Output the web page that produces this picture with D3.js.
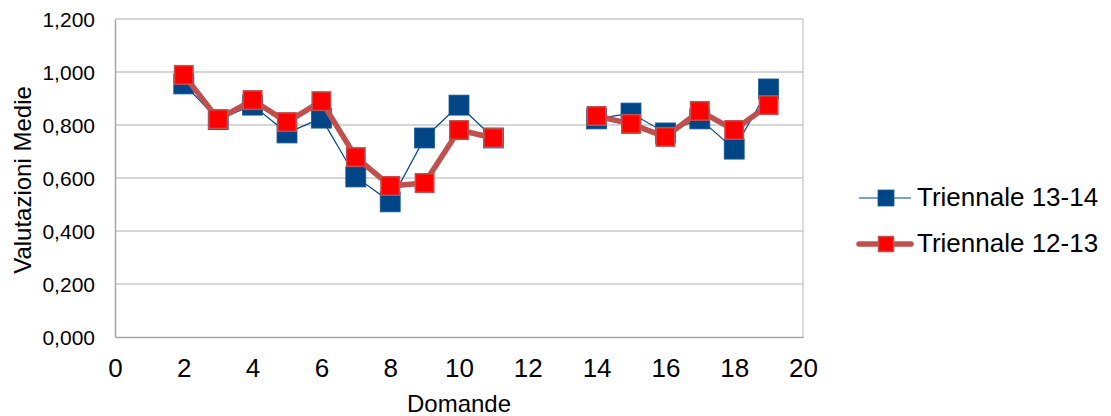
<!DOCTYPE html>
<html><head><meta charset="utf-8">
<script src="https://cdn.jsdelivr.net/npm/d3@7"></script>
<style>body{margin:0;background:#fff}svg{display:block;font-family:"Liberation Sans",Arial,sans-serif}</style>
</head><body>
<svg id="c" width="1111" height="416"></svg>
<script>
const domande = [2,3,4,5,6,7,8,9,10,11,12,13,14,15,16,17,18,19];
const triennale1314 = [0.955,0.820,0.875,0.770,0.826,0.604,0.510,0.751,0.875,0.751,null,null,0.823,0.845,0.770,0.823,0.709,0.936];
const triennale1213 = [0.989,0.822,0.894,0.811,0.890,0.679,0.570,0.581,0.781,0.751,null,null,0.834,0.804,0.755,0.853,0.781,0.875];
const xTicks = [0,2,4,6,8,10,12,14,16,18,20];
const yTicks = [0,0.2,0.4,0.6,0.8,1.0,1.2];
const seriesNames = ["Triennale 13-14","Triennale 12-13"];

const svg = d3.select("#c");
const FF = "Liberation Sans, Arial, sans-serif";
const L=115,R=803,T=19,B=337;
const x = d3.scaleLinear().domain([0,20]).range([L,R]);
const y = d3.scaleLinear().domain([0,1.2]).range([B,T]);
const fmt = v => d3.format(".3f")(v).replace(".",",");

// grid
svg.append("g").selectAll("line").data(yTicks.filter(d=>d>0)).join("line")
  .attr("x1",L).attr("x2",R).attr("y1",d=>y(d)).attr("y2",d=>y(d))
  .attr("stroke","#c8c8c8").attr("stroke-width",1.3);
svg.append("line").attr("x1",R).attr("x2",R).attr("y1",T).attr("y2",B).attr("stroke","#c8c8c8").attr("stroke-width",1.3);
// axes
const yAxis = d3.axisLeft(y).tickValues(yTicks).tickSize(0).tickPadding(20).tickFormat(fmt);
const gy = svg.append("g").attr("transform",`translate(${L},0)`).call(yAxis);
gy.select(".domain").attr("stroke","#a6a6a6").attr("stroke-width",1.5);
gy.selectAll("text").attr("font-size",21).attr("fill","#000").attr("font-family",FF).attr("dy","0.36em");
const xAxis = d3.axisBottom(x).tickValues(xTicks).tickSize(0).tickPadding(22).tickFormat(d3.format("d"));
const gx = svg.append("g").attr("transform",`translate(0,${B})`).call(xAxis);
gx.select(".domain").attr("stroke","#a6a6a6").attr("stroke-width",1.5);
gx.selectAll("text").attr("font-size",26).attr("fill","#000").attr("font-family",FF);

svg.append("text").attr("x",(L+R)/2).attr("y",412).attr("text-anchor","middle").attr("font-size",24).attr("font-family",FF).text("Domande");
svg.append("text").attr("transform","translate(31,180) rotate(-90)").attr("text-anchor","middle").attr("font-size",24).attr("font-family",FF).text("Valutazioni Medie");

const pts = vals => domande.map((d,i)=>({x:d,v:vals[i]}));
const line = d3.line().defined(d=>d.v!=null).x(d=>x(d.x)).y(d=>y(d.v));
const S=20;
// blue series
const p1 = pts(triennale1314);
svg.append("path").datum(p1).attr("d",line).attr("fill","none").attr("stroke","#004586").attr("stroke-width",1.2);
svg.append("g").selectAll("rect").data(p1.filter(d=>d.v!=null)).join("rect")
  .attr("x",d=>x(d.x)-S/2).attr("y",d=>y(d.v)-S/2).attr("width",S).attr("height",S)
  .attr("fill","#004586").attr("stroke","#1a5a96").attr("stroke-width",0.8);
// red series
const p2 = pts(triennale1213);
svg.append("path").datum(p2).attr("d",line).attr("fill","none").attr("stroke","#c0504d").attr("stroke-width",5.5).attr("stroke-linejoin","round");
svg.append("g").selectAll("rect").data(p2.filter(d=>d.v!=null)).join("rect")
  .attr("x",d=>x(d.x)-S/2+0.75).attr("y",d=>y(d.v)-S/2+0.75).attr("width",S-1.5).attr("height",S-1.5)
  .attr("fill","#ff0000").attr("stroke","#c0504d").attr("stroke-width",1.5);

// legend
const lg = svg.append("g").attr("font-family",FF);
lg.append("line").attr("x1",859).attr("x2",911).attr("y1",198).attr("y2",198).attr("stroke","#004586").attr("stroke-width",1.2);
lg.append("rect").attr("x",878).attr("y",190).attr("width",16).attr("height",16).attr("fill","#004586").attr("stroke","#1a5a96").attr("stroke-width",0.8);
lg.append("text").attr("x",917).attr("y",206).attr("font-size",26).text(seriesNames[0]);
lg.append("line").attr("x1",859).attr("x2",911).attr("y1",244).attr("y2",244).attr("stroke","#c0504d").attr("stroke-width",5.5).attr("stroke-linecap","round");
lg.append("rect").attr("x",878.5).attr("y",236.5).attr("width",15).attr("height",15).attr("fill","#ff0000").attr("stroke","#c0504d").attr("stroke-width",1.5);
lg.append("text").attr("x",917).attr("y",252).attr("font-size",26).text(seriesNames[1]);
</script>
</body></html>
